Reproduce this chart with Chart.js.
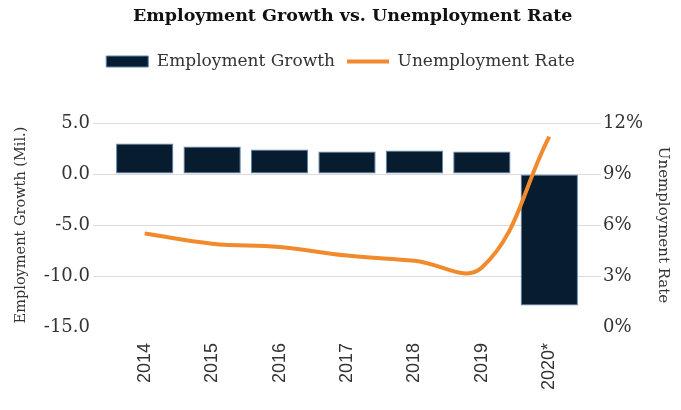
<!DOCTYPE html>
<html>
<head>
<meta charset="utf-8">
<script src="https://cdn.jsdelivr.net/npm/chart.js@4.4.1/dist/chart.umd.min.js"></script>
<style>
    html, body { margin: 0; padding: 0; background: #fff; }
    #wrap { width: 681px; height: 410px; }
</style>
</head>
<body>
<div id="wrap"><canvas id="comboChart" width="681" height="410"></canvas></div>
<script>
// =====================
// DATA
// =====================
const years        = ['2014', '2015', '2016', '2017', '2018', '2019', '2020*'];
const empGrowth    = [3.0, 2.7, 2.4, 2.2, 2.3, 2.2, -12.9];   // million jobs
const unempRate    = [5.5, 4.9, 4.7, 4.2, 3.9, 3.5, 11.2];    // percent
const growthTicks  = [-15, -10, -5, 0, 5];
const rateTicks    = [0, 3, 6, 9, 12];

const NAVY   = '#071c2e';
const ORANGE = '#f08a2c';
const GRID   = '#dcdcdc';
const TEXT   = '#333333';
const SERIF  = "'DejaVu Serif', serif";

// hide the bottom grid line / tick mark on both y axes
const gridColor = ctx => (ctx.tick && ctx.index === 0) ? 'rgba(0,0,0,0)' : GRID;

// extra room between the legend and the plot
const legendSpacer = {
    id: 'legendSpacer',
    beforeInit(chart) {
        const fit = chart.legend.fit;
        chart.legend.fit = function () {
            fit.bind(chart.legend)();
            this.height += 43;
        };
    }
};

// =====================
// RENDER CHART
// =====================
const ctx = document.getElementById('comboChart').getContext('2d');

new Chart(ctx, {
    data: {
        labels: years,
        datasets: [
            {
                type: 'line',
                label: 'Unemployment Rate',
                data: unempRate,
                yAxisID: 'y1',
                borderColor: ORANGE,
                backgroundColor: ORANGE,
                borderWidth: 4,
                tension: 0.4,
                pointRadius: 0,
                pointStyle: 'line',
                order: 0,
            },
            {
                type: 'bar',
                label: 'Employment Growth',
                data: empGrowth,
                yAxisID: 'y',
                backgroundColor: NAVY,
                borderColor: '#5a86b3',
                borderWidth: 1,
                borderSkipped: false,
                barPercentage: 0.85,
                categoryPercentage: 1.0,
                pointStyle: 'rect',
                order: 1,
            },
        ]
    },
    plugins: [legendSpacer],
    options: {
        responsive: false,
        animation: false,
        plugins: {
            title: {
                display: true,
                text: '    Employment Growth vs. Unemployment Rate',
                color: '#111',
                font: { family: SERIF, size: 17.5, weight: 'bold' },
                padding: { top: 6, bottom: 14 },
            },
            legend: {
                reverse: true,
                labels: {
                    usePointStyle: true,
                    pointStyleWidth: 42,
                    boxHeight: 11,
                    color: TEXT,
                    font: { family: SERIF, size: 17 },
                    padding: 12,
                },
            },
            tooltip: { enabled: false },
        },
        scales: {
            x: {
                grid: { display: false, drawTicks: false },
                border: { display: false },
                ticks: {
                    color: TEXT,
                    font: { family: "'Liberation Sans', Arial, sans-serif", size: 18 },
                    minRotation: 90,
                    maxRotation: 90,
                    padding: 16,
                },
                afterFit: s => { s.height = 83; },
            },
            y: {
                position: 'left',
                min: -15,
                max: 5,
                afterBuildTicks: s => { s.ticks = growthTicks.map(v => ({ value: v })); },
                ticks: {
                    color: TEXT,
                    font: { family: SERIF, size: 18 },
                    padding: 3,
                    callback: v => v.toFixed(1),
                },
                grid: { color: gridColor, tickLength: 18 },
                border: { display: false },
                title: {
                    display: true,
                    text: 'Employment Growth (Mil.)',
                    color: TEXT,
                    font: { family: SERIF, size: 14.5 },
                    padding: { top: 13, bottom: 0 },
                },
                afterFit: s => { s.width = 111; },
            },
            y1: {
                position: 'right',
                min: 0,
                max: 12,
                afterBuildTicks: s => { s.ticks = rateTicks.map(v => ({ value: v })); },
                ticks: {
                    color: TEXT,
                    font: { family: SERIF, size: 18 },
                    padding: 2,
                    callback: v => v + '%',
                },
                grid: { color: gridColor, tickColor: gridColor, tickLength: 18 },
                border: { display: false },
                title: {
                    display: true,
                    text: 'Unemployment Rate',
                    color: TEXT,
                    font: { family: SERIF, size: 15 },
                    padding: { top: 9, bottom: 0 },
                },
                afterFit: s => { s.width = 98; },
            },
        }
    }
});
</script>
</body>
</html>
